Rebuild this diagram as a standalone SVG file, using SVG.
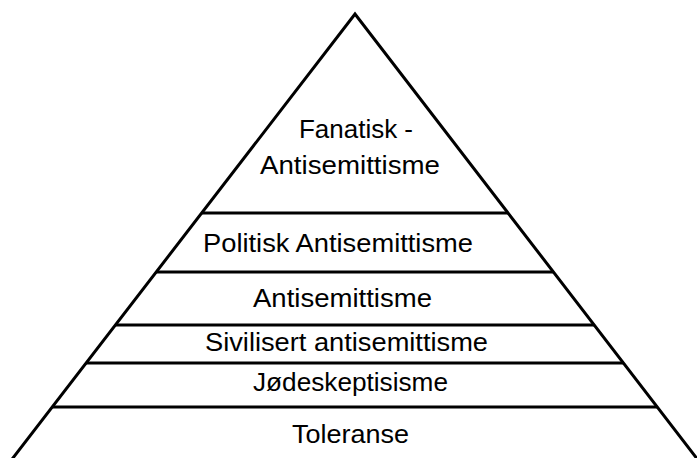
<svg xmlns="http://www.w3.org/2000/svg" width="697" height="458" viewBox="0 0 697 458">
<style>
.ln{stroke:#000;stroke-width:3;fill:none}
.t{font-family:"Liberation Sans",Arial,sans-serif;font-size:25px;fill:#000}
</style>
<rect width="697" height="458" fill="#fff"/>
<g id="outline">
<path class="ln" d="M3.7,470 L355,14 L705.7,470" stroke-linejoin="miter"/>
<line class="ln" x1="201.7" y1="213" x2="508" y2="213"/>
<line class="ln" x1="156.2" y1="272" x2="553.4" y2="272"/>
<line class="ln" x1="115.4" y1="325" x2="594.2" y2="325"/>
<line class="ln" x1="86.1" y1="363" x2="623.4" y2="363"/>
<line class="ln" x1="52.2" y1="407" x2="657.2" y2="407"/>
</g>
<g id="tier-fanatisk">
<text class="t" x="299" y="138" textLength="114" lengthAdjust="spacingAndGlyphs">Fanatisk -</text>
<text class="t" x="260" y="174" textLength="180" lengthAdjust="spacingAndGlyphs">Antisemittisme</text>
</g>
<g id="tier-politisk">
<text class="t" x="203" y="252" textLength="270" lengthAdjust="spacingAndGlyphs">Politisk Antisemittisme</text>
</g>
<g id="tier-antisemittisme">
<text class="t" x="253" y="307" textLength="179" lengthAdjust="spacingAndGlyphs">Antisemittisme</text>
</g>
<g id="tier-sivilisert">
<text class="t" x="205" y="351" textLength="283" lengthAdjust="spacingAndGlyphs">Sivilisert antisemittisme</text>
</g>
<g id="tier-jodeskeptisisme">
<text class="t" x="253" y="391" textLength="195" lengthAdjust="spacingAndGlyphs">Jødeskeptisisme</text>
</g>
<g id="tier-toleranse">
<text class="t" x="292" y="443" textLength="117" lengthAdjust="spacingAndGlyphs">Toleranse</text>
</g>
</svg>
